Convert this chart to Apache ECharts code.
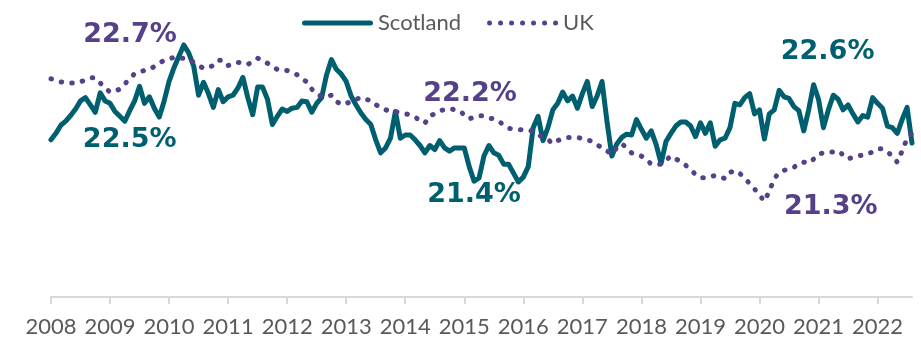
<!DOCTYPE html>
<html>
<head>
<meta charset="utf-8">
<script src="https://cdn.jsdelivr.net/npm/echarts@6/dist/echarts.min.js"></script>
<style>
  html, body { margin: 0; padding: 0; background: #ffffff; }
  #chart { width: 921px; height: 339px; }
</style>
</head>
<body>
<div id="chart"></div>
<script>
// Year tick labels; monthly series run from January 2008 to August 2022
const years = ['2008', '2009', '2010', '2011', '2012', '2013', '2014', '2015',
               '2016', '2017', '2018', '2019', '2020', '2021', '2022'];
const monthsInFinalYear = 8;

const months = [];
years.forEach(function (y, i) {
  const n = i === years.length - 1 ? monthsInFinalYear : 12;
  for (let m = 1; m <= n; m++) months.push(y + '-' + String(m).padStart(2, '0'));
});

// Scotland, monthly rate (%)
const scotland = [
  21.92, 22.00, 22.10, 22.15, 22.22, 22.30, 22.40, 22.44, 22.35, 22.26,
  22.50, 22.40, 22.37, 22.27, 22.21, 22.15, 22.28, 22.40, 22.58, 22.37,
  22.45, 22.31, 22.20, 22.40, 22.64, 22.81, 22.95, 23.09, 22.99, 22.83,
  22.47, 22.63, 22.49, 22.32, 22.54, 22.39, 22.45, 22.47, 22.56, 22.69,
  22.44, 22.23, 22.57, 22.57, 22.42, 22.11, 22.21, 22.30, 22.27, 22.31,
  22.32, 22.40, 22.39, 22.26, 22.37, 22.44, 22.72, 22.91, 22.79, 22.73,
  22.64, 22.46, 22.35, 22.25, 22.17, 22.11, 21.92, 21.76, 21.82, 21.94,
  22.27, 21.94, 21.98, 21.98, 21.92, 21.85, 21.76, 21.85, 21.80, 21.91,
  21.82, 21.78, 21.82, 21.82, 21.82, 21.59, 21.41, 21.45, 21.72, 21.85,
  21.76, 21.73, 21.62, 21.62, 21.51, 21.40, 21.46, 21.59, 22.07, 22.21,
  21.91, 22.07, 22.29, 22.37, 22.51, 22.40, 22.46, 22.31, 22.49, 22.64,
  22.33, 22.46, 22.64, 22.15, 21.72, 21.87, 21.95, 21.99, 21.98, 22.17,
  22.05, 21.94, 22.03, 21.86, 21.63, 21.90, 22.00, 22.09, 22.14, 22.14,
  22.09, 21.96, 22.13, 22.00, 22.13, 21.84, 21.92, 21.94, 22.07, 22.37,
  22.35, 22.44, 22.49, 22.24, 22.29, 21.93, 22.24, 22.29, 22.53, 22.45,
  22.43, 22.33, 22.28, 22.03, 22.29, 22.60, 22.42, 22.07, 22.29, 22.47,
  22.42, 22.29, 22.35, 22.24, 22.14, 22.22, 22.20, 22.44, 22.37, 22.31,
  22.09, 22.07, 22.00, 22.17, 22.32, 21.88
];

// UK, monthly rate (%)
const uk = [
  22.49, 22.48, 22.46, 22.45, 22.45, 22.45, 22.46, 22.48, 22.50, 22.50,
  22.45, 22.40, 22.36, 22.37, 22.39, 22.44, 22.49, 22.54, 22.56, 22.57,
  22.58, 22.61, 22.64, 22.67, 22.68, 22.70, 22.69, 22.69, 22.67, 22.65,
  22.62, 22.59, 22.60, 22.62, 22.67, 22.67, 22.62, 22.63, 22.65, 22.64,
  22.63, 22.66, 22.69, 22.67, 22.64, 22.61, 22.58, 22.57, 22.57, 22.55,
  22.53, 22.49, 22.46, 22.39, 22.34, 22.32, 22.32, 22.33, 22.27, 22.24,
  22.25, 22.27, 22.29, 22.31, 22.29, 22.28, 22.24, 22.21, 22.19, 22.17,
  22.17, 22.16, 22.15, 22.14, 22.12, 22.08, 22.06, 22.13, 22.15, 22.18,
  22.19, 22.20, 22.19, 22.18, 22.14, 22.10, 22.12, 22.13, 22.13, 22.11,
  22.10, 22.08, 22.04, 22.01, 22.00, 22.00, 21.99, 21.99, 21.98, 21.95,
  21.92, 21.90, 21.86, 21.89, 21.91, 21.92, 21.92, 21.92, 21.91, 21.90,
  21.88, 21.85, 21.82, 21.79, 21.76, 21.82, 21.86, 21.82, 21.77, 21.75,
  21.74, 21.71, 21.66, 21.66, 21.66, 21.70, 21.74, 21.71, 21.69, 21.65,
  21.61, 21.56, 21.53, 21.53, 21.54, 21.55, 21.54, 21.52, 21.58, 21.60,
  21.57, 21.53, 21.47, 21.42, 21.36, 21.30, 21.40, 21.52, 21.58, 21.60,
  21.62, 21.63, 21.67, 21.68, 21.67, 21.71, 21.76, 21.77, 21.78, 21.78,
  21.79, 21.75, 21.71, 21.73, 21.74, 21.75, 21.76, 21.78, 21.81, 21.81,
  21.78, 21.74, 21.68, 21.79, 21.91, 21.96
];

// Months whose values are called out on the chart
const scotlandCallouts = ['2008-11', '2015-12', '2020-12'];
const ukCallouts = ['2010-02', '2014-10', '2020-02'];

const TEAL = '#005f6e';
const PURPLE = '#57408a';
const GREY_TEXT = '#595959';
const AXIS_GREY = '#d9d9d9';

// Label placement for each callout, relative to its point
const scotlandOffsets = [[29.5, 47], [-44.4, 13], [14, -32.7]];
const ukOffsets = [[-44, -22], [20.5, -14.3], [66.4, 5.4]];

// Legend keys: a thick rounded bar and a row of seven dots
const SOLID_KEY = 'path://M2.5,0L68.5,0A2.5,2.5,0,0,1,68.5,5L2.5,5A2.5,2.5,0,0,1,2.5,0Z';
const DOTTED_KEY = 'path://' + [0, 11, 22, 33, 44, 55, 66].map(function (x0) {
  return 'M' + x0 + ',2.5A2.5,2.5,0,1,0,' + (x0 + 5) + ',2.5A2.5,2.5,0,1,0,' + x0 + ',2.5Z';
}).join('');

function callouts(monthList, values, offsets) {
  return monthList.map(function (m, i) {
    const idx = months.indexOf(m);
    return {
      coord: [idx, values[idx]],
      value: values[idx],
      label: { offset: offsets[i] }
    };
  });
}

function markPointFor(monthList, values, offsets, color) {
  return {
    symbol: 'circle',
    symbolSize: 0,
    itemStyle: { color: 'transparent' },
    label: {
      show: true,
      position: 'inside',
      align: 'center',
      verticalAlign: 'middle',
      color: color,
      fontFamily: 'DejaVu Sans',
      fontWeight: 'bold',
      fontSize: 27,
      formatter: function (p) { return p.value.toFixed(1) + '%'; }
    },
    data: callouts(monthList, values, offsets)
  };
}

const chart = echarts.init(document.getElementById('chart'), null, { renderer: 'canvas' });

chart.setOption({
  animation: false,
  backgroundColor: '#ffffff',
  legend: {
    data: [
      { name: 'Scotland', icon: SOLID_KEY, itemStyle: { color: TEAL } },
      { name: 'UK', icon: DOTTED_KEY, itemStyle: { color: PURPLE } }
    ],
    left: 297,
    top: 7,
    itemWidth: 71,
    itemHeight: 5,
    itemGap: 26,
    itemStyle: { borderWidth: 0 },
    textStyle: { fontFamily: 'Lato', fontSize: 22, color: GREY_TEXT }
  },
  grid: { left: 51, right: 9, top: 10, bottom: 42, outerBoundsMode: 'none' },
  xAxis: {
    type: 'category',
    data: months,
    boundaryGap: false,
    axisLine: { lineStyle: { color: AXIS_GREY, width: 2 } },
    axisTick: {
      show: true,
      interval: function (i) { return i % 12 === 0; },
      length: 7,
      lineStyle: { color: AXIS_GREY, width: 2 }
    },
    axisLabel: {
      interval: function (i) { return i % 12 === 0; },
      formatter: function (v) { return years[years.indexOf(v.slice(0, 4))]; },
      fontFamily: 'Lato',
      fontSize: 22,
      color: GREY_TEXT,
      margin: 19
    },
    splitLine: { show: false }
  },
  yAxis: [
    { type: 'value', show: false, min: 20.371, max: 23.158, splitLine: { show: false } },
    { type: 'value', show: false, min: 19.982, max: 23.521, splitLine: { show: false } }
  ],
  series: [
    {
      name: 'Scotland',
      type: 'line',
      yAxisIndex: 1,
      data: scotland,
      symbol: 'none',
      itemStyle: { color: TEAL },
      lineStyle: { color: TEAL, width: 5, join: 'round', cap: 'round' },
      markPoint: markPointFor(scotlandCallouts, scotland, scotlandOffsets, TEAL)
    },
    {
      name: 'UK',
      type: 'line',
      yAxisIndex: 0,
      data: uk,
      symbol: 'none',
      itemStyle: { color: PURPLE },
      lineStyle: { color: PURPLE, width: 5, type: [0.5, 10.2], cap: 'round' },
      markPoint: markPointFor(ukCallouts, uk, ukOffsets, PURPLE)
    }
  ]
});
</script>
</body>
</html>
